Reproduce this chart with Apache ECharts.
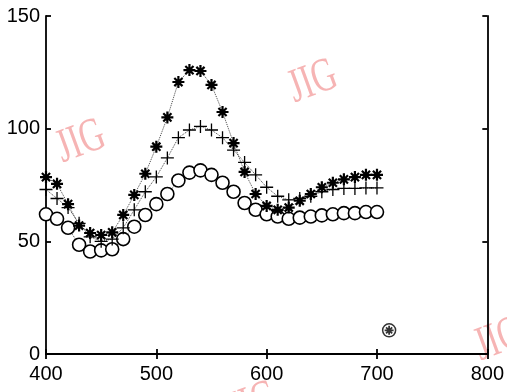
<!DOCTYPE html>
<html>
<head>
<meta charset="utf-8">
<script src="https://cdn.jsdelivr.net/npm/echarts@6/dist/echarts.min.js"></script>
<style>
  html, body { margin: 0; padding: 0; background: #fff; }
  #chart { width: 507px; height: 392px; }
</style>
</head>
<body>
<div id="chart"></div>
<script>
// wavelength (nm)
var wavelengths = [400, 410, 420, 430, 440, 450, 460, 470, 480, 490, 500,
  510, 520, 530, 540, 550, 560, 570, 580, 590, 600,
  610, 620, 630, 640, 650, 660, 670, 680, 690, 700];

// circle series
var circleVals = [62, 60, 56, 48.5, 45.5, 46, 46.5, 51, 56.5, 61.7, 66.5,
  71, 77, 80.5, 81.5, 79.5, 76, 72, 67, 64, 62,
  61, 60, 60.5, 61, 61.5, 62, 62.5, 62.5, 63, 63];

// plus series
var plusVals = [73, 69, 65, 58, 52, 50, 51, 56, 64, 72, 78.6,
  87, 96, 99.4, 101, 99.4, 96, 90.5, 85, 79.5, 74,
  70, 68.4, 69, 70, 72, 73, 73.5, 73.5, 73.7, 73.7];

// asterisk series
var starVals = [78.5, 75.5, 66.5, 57, 53.7, 52.8, 54, 61.7, 70.6, 80, 92,
  105, 120.7, 126, 125.6, 119.4, 107.4, 93.6, 80.8, 71, 65.7,
  64, 65, 68, 71, 74, 76, 77.5, 78.5, 79.5, 79.5];

// stray point near the bottom
var outlierX = [711];
var outlierY = [10.5];

function pairs(xs, ys) {
  return xs.map(function (x, i) { return [x, ys[i]]; });
}

var plusPath = 'path://M0,5L10,5M5,0L5,10';
var starPath = 'path://M5,0L5,10M0,5L10,5M1.6,1.6L8.4,8.4M8.4,1.6L1.6,8.4';

var chart = echarts.init(document.getElementById('chart'), null, { renderer: 'canvas' });

var axisFont = { fontFamily: 'Liberation Sans', fontSize: 20, color: '#000' };
var dotted = { type: 'dotted', width: 1, color: '#444' };
var blackLine = { color: '#000', width: 1.8 };

function wm(x, y) {
  return {
    type: 'text', x: x, y: y, rotation: 0.35, scaleX: 0.7, z: -1,
    style: { text: 'JIG', fill: '#f6b4b4', font: '48px "Liberation Serif"' }
  };
}

var option = {
  animation: false,
  backgroundColor: '#fff',
  grid: { left: 46, right: 18, top: 16, bottom: 38 },
  graphic: [wm(50, 128), wm(282, 68), wm(468, 326), wm(222, 390)],
  xAxis: [{
    type: 'value', min: 400, max: 800, interval: 100,
    axisLine: { lineStyle: blackLine },
    axisTick: { inside: true, length: 5, lineStyle: blackLine },
    axisLabel: Object.assign({ margin: 10 }, axisFont),
    splitLine: { show: false }
  }, {
    type: 'value', min: 400, max: 800, interval: 100, position: 'top',
    axisLine: { lineStyle: blackLine },
    axisTick: { inside: true, length: 5, lineStyle: blackLine },
    axisLabel: { show: false },
    splitLine: { show: false }
  }],
  yAxis: [{
    type: 'value', min: 0, max: 150, interval: 50,
    axisLine: { show: true, lineStyle: blackLine },
    axisTick: { show: true, inside: true, length: 5, lineStyle: blackLine },
    axisLabel: Object.assign({ margin: 6 }, axisFont),
    splitLine: { show: false }
  }, {
    type: 'value', min: 0, max: 150, interval: 50, position: 'right',
    axisLine: { show: true, lineStyle: blackLine },
    axisTick: { show: true, inside: true, length: 5, lineStyle: blackLine },
    axisLabel: { show: false },
    splitLine: { show: false }
  }],
  series: [{
    name: 'circle', type: 'line',
    data: pairs(wavelengths, circleVals),
    symbol: 'circle', symbolSize: 13, showAllSymbol: true,
    lineStyle: dotted,
    itemStyle: { color: '#fff', borderColor: '#000', borderWidth: 1.6 }
  }, {
    name: 'plus', type: 'line',
    data: pairs(wavelengths, plusVals),
    symbol: plusPath, symbolSize: 13, showAllSymbol: true,
    lineStyle: dotted,
    itemStyle: { color: 'none', borderColor: '#000', borderWidth: 1.3 }
  }, {
    name: 'star', type: 'line',
    data: pairs(wavelengths, starVals),
    symbol: starPath, symbolSize: 12, showAllSymbol: true,
    lineStyle: dotted,
    itemStyle: { color: 'none', borderColor: '#000', borderWidth: 2.2 }
  }, {
    name: 'stray', type: 'scatter',
    data: pairs(outlierX, outlierY),
    symbol: 'circle', symbolSize: 13,
    itemStyle: { color: '#fff', borderColor: '#000', borderWidth: 1.5 }
  }, {
    name: 'stray2', type: 'scatter',
    data: pairs(outlierX, outlierY),
    symbol: starPath, symbolSize: 9,
    itemStyle: { color: 'none', borderColor: '#000', borderWidth: 1.8 }
  }]
};

chart.setOption(option);
</script>
</body>
</html>
